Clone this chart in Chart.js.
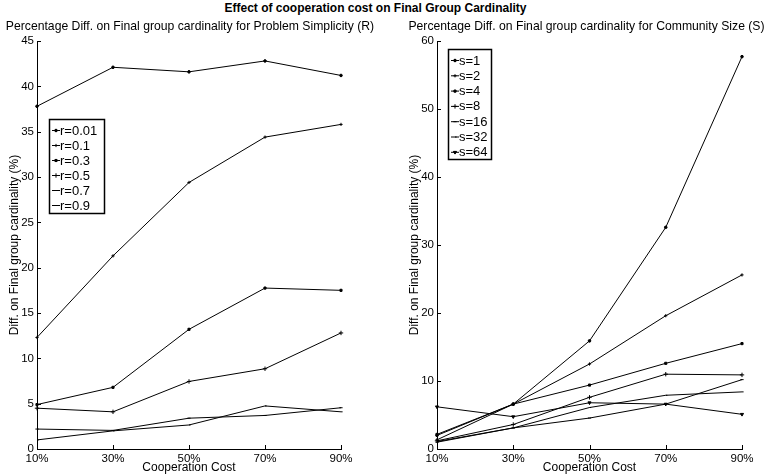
<!DOCTYPE html>
<html>
<head>
<meta charset="utf-8">
<script src="https://cdn.jsdelivr.net/npm/chart.js@4/dist/chart.umd.min.js"></script>
<style>
    html, body { margin: 0; padding: 0; background: #fff; }
    #wrap { position: relative; width: 767px; height: 476px; overflow: hidden; }
    #titulo { position: absolute; left: -8px; top: 1px; width: 767px; text-align: center;
        font: bold 12px "Liberation Sans", Arial, sans-serif; color: #000; }
    canvas { position: absolute; top: 0; }
    #esq { left: 0; }
    #dir { left: 384px; }
</style>
</head>
<body>
<div id="wrap">
    <div id="titulo">Effect of cooperation cost on Final Group Cardinality</div>
    <canvas id="esq" width="384" height="476"></canvas>
    <canvas id="dir" width="383" height="476"></canvas>
</div>
<script>
const categorias = ["10%", "30%", "50%", "70%", "90%"];

// painel esquerdo: Problem Simplicity (R)
const rLabels = ["r=0.01", "r=0.1", "r=0.3", "r=0.5", "r=0.7", "r=0.9"];
const r001 = [37.8, 42.1, 41.6, 42.8, 41.2];
const r01 = [12.3, 21.3, 29.4, 34.4, 35.8];
const r03 = [4.9, 6.8, 13.2, 17.75, 17.5];
const r05 = [4.5, 4.1, 7.45, 8.85, 12.8];
const r07 = [2.2, 2.05, 3.4, 3.7, 4.55];
const r09 = [1.0, 2.0, 2.65, 4.75, 4.1];
const rTicks = [0, 5, 10, 15, 20, 25, 30, 35, 40, 45];

// painel direito: Community Size (S)
const sLabels = ["s=1", "s=2", "s=4", "s=8", "s=16", "s=32", "s=64"];
const s1 = [2.0, 6.6, 15.9, 32.6, 57.7];
const s2 = [1.35, 6.6, 12.5, 19.6, 25.6];
const s4 = [2.15, 6.6, 9.4, 12.6, 15.5];
const s8 = [1.2, 3.6, 7.6, 11.0, 10.9];
const s16 = [1.0, 3.1, 4.55, 6.6, 10.2];
const s32 = [1.1, 3.1, 6.1, 7.9, 8.4];
const s64 = [6.2, 4.75, 6.8, 6.6, 5.1];
const sTicks = [0, 10, 20, 30, 40, 50, 60];

const FONTE = "'Liberation Sans', Arial, sans-serif";

const estilos = [
    { pointStyle: "circle", radius: 1.3 },
    { pointStyle: "cross", radius: 1.6 },
    { pointStyle: "rect", radius: 1.5 },
    { pointStyle: "cross", radius: 2.2 },
    { pointStyle: "line", radius: 1.6 },
    { pointStyle: "dash", radius: 1.6 },
    { pointStyle: "triangle", radius: 1.8, rotation: 180 },
];

function series(labels, valores) {
    return valores.map((v, i) => ({
        label: labels[i],
        data: v,
        borderColor: "#000",
        backgroundColor: "#000",
        borderWidth: 1,
        pointStyle: estilos[i].pointStyle,
        pointRadius: estilos[i].radius,
        pointRotation: estilos[i].rotation || 0,
        pointBorderWidth: 1,
        tension: 0,
    }));
}

// ticks para dentro, estilo matlab
const ticksDentro = {
    id: "ticksDentro",
    afterDatasetsDraw(chart) {
        const { ctx, chartArea, scales } = chart;
        ctx.save();
        ctx.strokeStyle = "#000";
        ctx.lineWidth = 1;
        scales.y.ticks.forEach((t, i) => {
            const py = Math.round(scales.y.getPixelForTick(i)) + 0.5;
            ctx.beginPath();
            ctx.moveTo(chartArea.left, py);
            ctx.lineTo(chartArea.left + 4, py);
            ctx.stroke();
        });
        scales.x.ticks.forEach((t, i) => {
            const px = Math.round(scales.x.getPixelForTick(i)) + 0.5;
            ctx.beginPath();
            ctx.moveTo(px, chartArea.bottom);
            ctx.lineTo(px, chartArea.bottom - 4);
            ctx.stroke();
        });
        ctx.restore();
    },
};

// subtitulo centrado sobre a area do grafico
const subtitulo = {
    id: "subtitulo",
    afterDraw(chart, args, opts) {
        const { ctx, chartArea } = chart;
        ctx.save();
        ctx.font = "12.2px " + FONTE;
        ctx.fillStyle = "#000";
        ctx.textAlign = "center";
        ctx.textBaseline = "middle";
        ctx.fillText(opts.text, (chartArea.left + chartArea.right) / 2 + (opts.dx || 0), 27);
        ctx.restore();
    },
};

// legenda em caixa dentro do grafico
const legendaCaixa = {
    id: "legendaCaixa",
    afterDraw(chart, args, opts) {
        const ctx = chart.ctx;
        const n = chart.data.datasets.length;
        ctx.save();
        ctx.fillStyle = "#fff";
        ctx.fillRect(opts.x, opts.y, opts.w, opts.h);
        ctx.strokeStyle = "#000";
        ctx.lineWidth = 1.5;
        ctx.strokeRect(opts.x + 0.5, opts.y + 0.5, opts.w, opts.h);
        ctx.font = "13px " + FONTE;
        ctx.textBaseline = "middle";
        ctx.fillStyle = "#000";
        for (let i = 0; i < n; i++) {
            const ds = chart.data.datasets[i];
            const yy = opts.y + opts.first + i * opts.step;
            ctx.lineWidth = 1;
            ctx.beginPath();
            ctx.moveTo(opts.x + 3, yy + 0.5);
            ctx.lineTo(opts.x + 11, yy + 0.5);
            ctx.stroke();
            Chart.helpers.drawPoint(ctx, {
                pointStyle: ds.pointStyle,
                radius: ds.pointRadius,
                rotation: ds.pointRotation,
                borderWidth: 1,
            }, opts.x + 7, yy + 0.5);
            ctx.fill();
            ctx.fillText(ds.label, opts.x + 11, yy + 1);
        }
        ctx.restore();
    },
};

function criar(id, labels, valores, ticks, max, titulo, eixoY, legenda, larguraY, dirPad, dx) {
    return new Chart(document.getElementById(id), {
        type: "line",
        data: {
            labels: categorias,
            datasets: series(labels, valores),
        },
        plugins: [ticksDentro, legendaCaixa, subtitulo],
        options: {
            responsive: false,
            animation: false,
            layout: { padding: { left: 0, right: dirPad, top: 41, bottom: 0 } },
            plugins: {
                legend: { display: false },
                tooltip: { enabled: false },
                title: { display: false },
                subtitulo: { text: titulo, dx: dx },
                legendaCaixa: legenda,
            },
            scales: {
                x: {
                    type: "category",
                    offset: false,
                    grid: { display: true, drawOnChartArea: false, drawTicks: false },
                    border: { display: true, color: "#000", width: 1 },
                    ticks: { color: "#000", padding: 3, maxRotation: 0, font: { family: FONTE, size: 11.5 } },
                    title: {
                        display: true,
                        text: "Cooperation Cost",
                        color: "#000",
                        font: { family: FONTE, size: 12, lineHeight: 1 },
                        padding: { top: 0, bottom: 2 },
                    },
                    afterFit(s) { s.height = 27; },
                },
                y: {
                    min: 0,
                    max: max,
                    afterBuildTicks(s) { s.ticks = ticks.map((v) => ({ value: v })); },
                    grid: { display: true, drawOnChartArea: false, drawTicks: false },
                    border: { display: true, color: "#000", width: 1 },
                    ticks: { color: "#000", padding: 3, font: { family: FONTE, size: 11.5 } },
                    title: {
                        display: true,
                        text: eixoY,
                        color: "#000",
                        font: { family: FONTE, size: 12, lineHeight: 1.2 },
                        padding: { top: larguraY.tituloPad, bottom: 0 },
                    },
                    afterFit(s) { s.width = larguraY.w; },
                },
            },
        },
    });
}

window.onload = function () {
    criar("esq", rLabels, [r001, r01, r03, r05, r07, r09], rTicks, 45,
        "Percentage Diff. on Final group cardinality for Problem Simplicity (R)",
        "Diff. on Final group cardinality (%)",
        { x: 49, y: 119, w: 55, h: 94, first: 11, step: 15 },
        { w: 37, tituloPad: 7 }, 43, 1);

    criar("dir", sLabels, [s1, s2, s4, s8, s16, s32, s64], sTicks, 60,
        "Percentage Diff. on Final group cardinality for Community Size (S)",
        "Diff. on Final group cardinality (%)",
        { x: 64, y: 49, w: 43, h: 110, first: 11, step: 15.3 },
        { w: 53, tituloPad: 23 }, 25, -3);
};
</script>
</body>
</html>
